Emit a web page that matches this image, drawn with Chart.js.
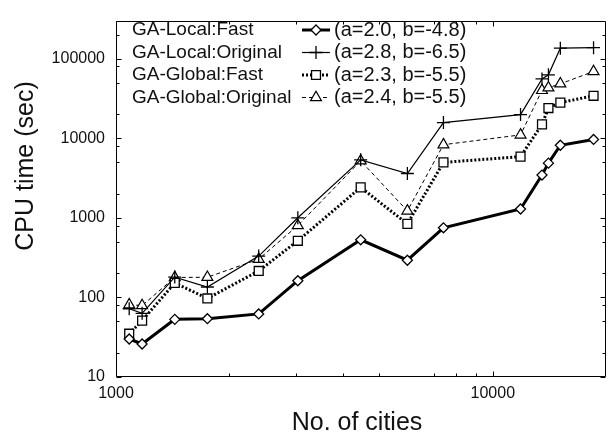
<!DOCTYPE html>
<html><head><meta charset="utf-8">
<script src="https://cdn.jsdelivr.net/npm/chart.js@4/dist/chart.umd.min.js"></script>
<style>html,body{margin:0;padding:0;background:#fff}#wrap{width:614px;height:434px}</style>
</head><body><div id="wrap"><canvas id="c" width="614" height="434"></canvas></div>
<script>
// ---- data ----
const cities = [1084, 1173, 1432, 1748, 2392, 3038, 4461, 5934, 7397, 11849, 13509, 14051, 15112, 18512];
const localFast  = [30, 26, 53, 54, 62, 162, 529, 293, 748, 1290, 3440, 4860, 8150, 9640];
const localOrig  = [72, 63, 180, 135, 330, 1000, 5350, 3600, 15700, 19800, 55500, 62500, 135000, 137000];
const globalFast = [35, 51, 152, 97, 215, 514, 2410, 838, 4960, 5870, 14900, 23900, 28000, 34100];
const globalOrig = [81, 79, 178, 179, 302, 800, 5200, 1220, 8280, 11000, 39900, 43000, 48200, 68800];
const seriesNames = ['GA-Local:Fast', 'GA-Local:Original', 'GA-Global:Fast', 'GA-Global:Original'];
const fitLabels = ['(a=2.0, b=-4.8)', '(a=2.8, b=-6.5)', '(a=2.3, b=-5.5)', '(a=2.4, b=-5.5)'];
const xMajorTicks = [1000, 10000];
const xMinorTicks = [2000, 3000, 4000, 5000, 7000, 8000, 9000];
const yMajorTicks = [10, 100, 1000, 10000, 100000];
const yMinorTicks = [20, 50, 80, 200, 500, 800, 2000, 5000, 8000, 20000, 50000, 80000, 200000];
const xTitle = 'No. of cities';
const yTitle = 'CPU time (sec)';

const FONT = 'Liberation Sans, Arial, Helvetica, sans-serif';
const toXY = ys => cities.map((c, i) => ({x: c, y: ys[i]}));

const styles = [
  {data: localFast,  pointStyle: 'rectRot',  radius: 5,   borderWidth: 3,   dash: [],     pbw: 1.3},
  {data: localOrig,  pointStyle: 'cross',    radius: 6.5, borderWidth: 1.2, dash: [],     pbw: 1.3},
  {data: globalFast, pointStyle: 'rect',     radius: 6.3, borderWidth: 3,   dash: [2, 2], pbw: 1.3},
  {data: globalOrig, pointStyle: 'triangle', radius: 6.3, borderWidth: 1,   dash: [4, 3], pbw: 1.2},
];

const datasets = styles.map((s, i) => ({
  label: seriesNames[i],
  data: toXY(s.data),
  showLine: true,
  borderColor: '#000',
  backgroundColor: '#fff',
  borderWidth: s.borderWidth,
  borderDash: s.dash,
  pointStyle: s.pointStyle,
  pointRadius: s.radius,
  pointBorderWidth: s.pbw,
  pointBackgroundColor: '#fff',
  pointBorderColor: '#000',
  tension: 0,
  fill: false
}));

const framePlugin = {
  id: 'frameTicks',
  afterDatasetsDraw(chart) {
    const {ctx, chartArea: a, scales: {x, y}} = chart;
    ctx.save();
    ctx.strokeStyle = '#000';
    ctx.lineWidth = 1;
    const L = Math.round(a.left) + 0.5, R = Math.round(a.right) - 0.5;
    const T = Math.round(a.top) + 0.5, B = Math.round(a.bottom) - 0.5;
    ctx.beginPath();
    ctx.rect(L, T, R - L, B - T);
    ctx.stroke();
    ctx.beginPath();
    const xt = (v, len) => {
      const p = Math.round(x.getPixelForValue(v)) + 0.5;
      ctx.moveTo(p, B); ctx.lineTo(p, B - len);
      ctx.moveTo(p, T); ctx.lineTo(p, T + len);
    };
    const yt = (v, len) => {
      const p = Math.round(y.getPixelForValue(v)) + 0.5;
      ctx.moveTo(L, p); ctx.lineTo(L + len, p);
      ctx.moveTo(R, p); ctx.lineTo(R - len, p);
    };
    xMajorTicks.forEach(v => xt(v, 5));
    xMinorTicks.forEach(v => xt(v, 3));
    yMajorTicks.forEach(v => yt(v, 5));
    yMinorTicks.forEach(v => yt(v, 3));
    ctx.stroke();
    ctx.restore();
  }
};

const legendPlugin = {
  id: 'customLegend',
  afterDraw(chart) {
    const ctx = chart.ctx;
    const rows = [30, 52.5, 75, 97.5];
    ctx.save();
    ctx.fillStyle = '#111';
    ctx.textBaseline = 'middle';
    ctx.textAlign = 'left';
    chart.data.datasets.forEach((ds, i) => {
      const yy = rows[i];
      ctx.fillStyle = '#111';
      ctx.font = '19px ' + FONT;
      ctx.fillText(seriesNames[i], 132, yy);
      // line sample
      ctx.save();
      ctx.strokeStyle = '#000';
      ctx.lineWidth = ds.borderWidth;
      ctx.setLineDash(ds.borderDash);
      ctx.beginPath();
      ctx.moveTo(302, yy); ctx.lineTo(330, yy);
      ctx.stroke();
      ctx.restore();
      // marker
      ctx.save();
      ctx.fillStyle = '#fff';
      ctx.strokeStyle = '#000';
      ctx.lineWidth = ds.pointBorderWidth;
      Chart.helpers.drawPoint(ctx, {pointStyle: ds.pointStyle, radius: ds.pointRadius, borderWidth: ds.pointBorderWidth, rotation: 0}, 316, yy);
      ctx.restore();
      ctx.fillStyle = '#111';
      ctx.font = '20px ' + FONT;
      ctx.fillText(fitLabels[i], 334, yy);
    });
    ctx.restore();
  }
};

const titlePlugin = {
  id: 'axisTitles',
  afterDraw(chart) {
    const ctx = chart.ctx;
    ctx.save();
    ctx.fillStyle = '#111';
    ctx.font = '25px ' + FONT;
    ctx.textAlign = 'center';
    ctx.textBaseline = 'alphabetic';
    ctx.fillText(xTitle, 357, 430);
    ctx.translate(33, 166);
    ctx.rotate(-Math.PI / 2);
    ctx.fillText(yTitle, 0, 0);
    ctx.restore();
  }
};

new Chart(document.getElementById('c'), {
  type: 'scatter',
  data: {datasets},
  options: {
    responsive: false,
    animation: false,
    devicePixelRatio: 1,
    layout: {padding: {top: 10, right: 1, left: 0, bottom: 0}},
    plugins: {legend: {display: false}, tooltip: {enabled: false}},
    scales: {
      x: {
        type: 'logarithmic', min: 1000, max: 20000, position: 'bottom',
        grid: {display: false, drawTicks: false}, border: {display: false},
        afterBuildTicks: s => { s.ticks = xMajorTicks.map(v => ({value: v})); },
        afterFit: s => { s.height = 57; },
        ticks: {callback: v => String(v), font: {family: FONT, size: 16}, color: '#111', padding: 7, maxRotation: 0, autoSkip: false}
      },
      y: {
        type: 'logarithmic', min: 10, max: 300000, position: 'left',
        grid: {display: false, drawTicks: false}, border: {display: false},
        afterBuildTicks: s => { s.ticks = yMajorTicks.map(v => ({value: v})); },
        afterFit: s => { s.width = 116; },
        ticks: {callback: v => String(v), font: {family: FONT, size: 16}, color: '#111', padding: 11, autoSkip: false}
      }
    }
  },
  plugins: [framePlugin, legendPlugin, titlePlugin]
});
</script>
</body></html>
